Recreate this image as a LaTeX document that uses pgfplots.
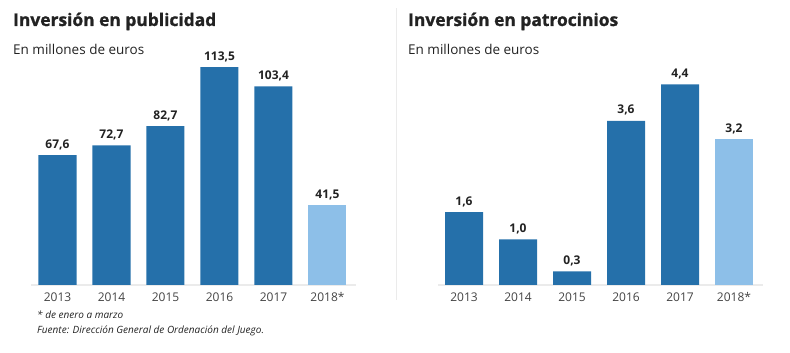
\documentclass[border=0pt]{standalone}
\usepackage{pgfplots}
\pgfplotsset{compat=1.18}
\usepackage{fontspec}
\setmainfont{Open Sans}
\newfontfamily\titlefont[FakeBold=1.2]{Open Sans Bold}
\definecolor{darkbar}{HTML}{2570AA}
\definecolor{lightbar}{HTML}{8DBFE8}
\definecolor{txt}{HTML}{222222}
\definecolor{tick}{HTML}{444444}
\definecolor{rule}{HTML}{EBEBEB}
\pgfplotsset{
  mybars/.style={
    ybar, bar width=38pt, bar shift=0pt, clip=false,
    axis x line*=bottom, axis y line=none,
    x axis line style={draw=rule, line width=2pt, -},
    ymin=0, xtick={0,1,2,3,4,5},
    xticklabels={2013,2014,2015,2016,2017,2018*},
    major tick length=0pt,
    xticklabel style={font=\fontsize{12}{14}\selectfont, text=tick, anchor=base, yshift=-17pt, inner sep=0pt},
    ytick=\empty,
    nodes near coords,
    nodes near coords style={font=\bfseries\fontsize{12}{14}\selectfont, text=txt, anchor=base, yshift=7pt, inner sep=0pt,
      /pgf/number format/.cd, fixed, fixed zerofill, precision=1, use comma, assume math mode=true},
  }
}
\begin{document}
\begin{tikzpicture}
\useasboundingbox (0pt,0pt) rectangle (790pt,353pt);
\coordinate (LA) at (31.04pt,68pt);
\coordinate (RA) at (438.08pt,68pt);
% titles
\node[anchor=base west, inner sep=0, text=txt] at (13pt,327pt) {\titlefont\fontsize{17.4}{20}\selectfont Inversión en publicidad};
\node[anchor=base west, inner sep=0, text=txt] at (408pt,327pt) {\titlefont\fontsize{17.4}{20}\selectfont Inversión en patrocinios};
\node[anchor=base west, inner sep=0, text=txt] at (13pt,298pt) {\fontsize{13.5}{16}\selectfont En millones de euros};
\node[anchor=base west, inner sep=0, text=txt] at (408pt,298pt) {\fontsize{13.5}{16}\selectfont En millones de euros};
\node[anchor=base west, inner sep=0, text=txt] at (37pt,34pt) {\itshape\fontsize{10}{12}\selectfont * de enero a marzo};
\node[anchor=base west, inner sep=0, text=txt] at (37pt,19pt) {\itshape\fontsize{10}{12}\selectfont Fuente: Dirección General de Ordenación del Juego.};
\draw[rule, line width=1pt] (396pt,345pt) -- (396pt,53pt);
% left chart
\begin{axis}[mybars, anchor=south west, at={(LA)}, x=54pt, y=1.92pt,
  xmin=-0.49, xmax=5.52, ymax=120]
\addplot[fill=darkbar, draw=none] coordinates {(0,67.6) (1,72.7) (2,82.7) (3,113.5) (4,103.4)};
\addplot[fill=lightbar, draw=none] coordinates {(5,41.5)};
\end{axis}
% right chart
\begin{axis}[mybars, anchor=south west, at={(RA)}, x=54pt, y=45.6pt,
  xmin=-0.48, xmax=5.54, ymax=5]
\addplot[fill=darkbar, draw=none] coordinates {(0,1.6) (1,1.0) (2,0.3) (3,3.6) (4,4.4)};
\addplot[fill=lightbar, draw=none] coordinates {(5,3.2)};
\end{axis}
\end{tikzpicture}
\end{document}
